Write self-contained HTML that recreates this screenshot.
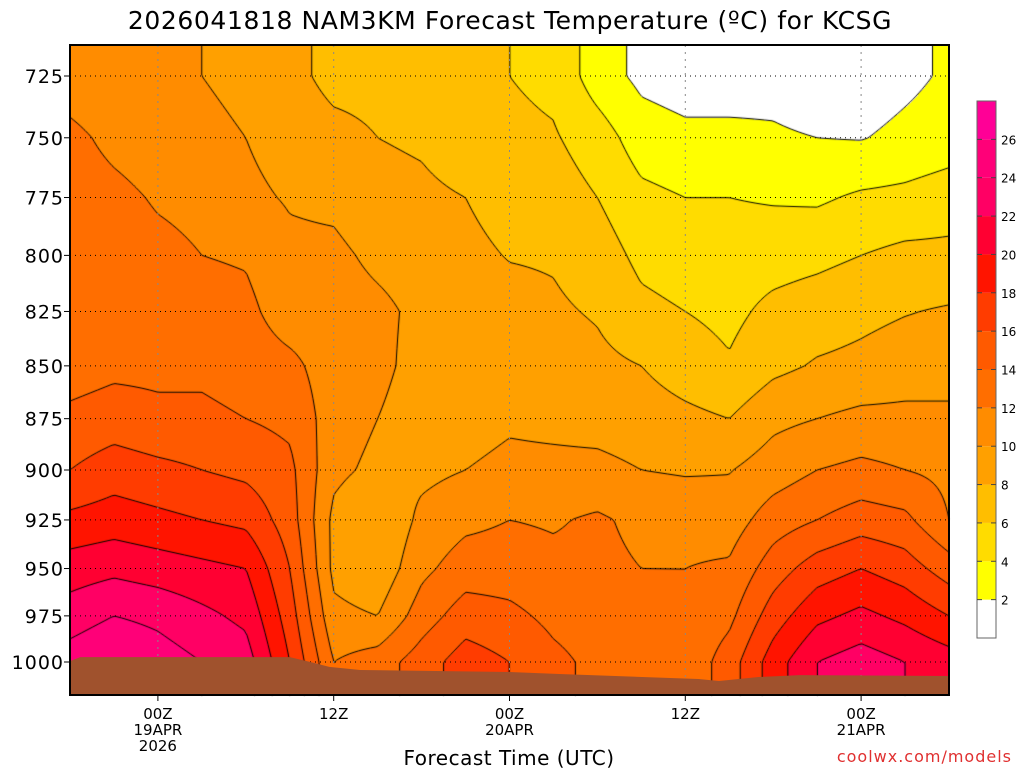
<!DOCTYPE html>
<html><head><meta charset="utf-8">
<style>
body{margin:0;background:#fff;width:1024px;height:768px;overflow:hidden;font-family:"DejaVu Sans","Liberation Sans",sans-serif}
#wrap{position:relative;width:1024px;height:768px}
canvas{position:absolute;left:0;top:0}
svg{position:absolute;left:0;top:0;font-family:"DejaVu Sans","Liberation Sans",sans-serif}
</style></head><body>
<div id="wrap">
<canvas id="cv" width="1024" height="768"></canvas>
<svg id="sv" width="1024" height="768"></svg>
</div>
<script>
const hours=[0,3,6,9,12,15,18,21,24,27,30,33,36,39,42,45,48,51,54,57,60];
const pressures=[725,750,775,800,825,850,875,900,925,950,975,1000];
const temps=[
[11,12.5,13,13,13,13,14.5,16,18.5,21,23,25],
[10.5,11.5,12.5,13,13,13.5,15,17,19,21.5,24,26],
[10.3,11,11.8,12.5,13,13.5,14.5,16.5,18.5,21,23.5,25],
[10,10.5,11.5,12,12.8,13.5,14.5,16,18,20.5,22.5,24],
[9.5,10,10.5,11.8,12.5,13,14,15.5,17.5,20,21.5,23],
[8.5,9,9.8,10.5,11,12.5,13.5,14.5,15,16,17,18],
[7.5,8.5,9.5,10.5,11,11,11,10.5,9.5,9.5,10.5,12],
[7.5,8,8.5,9.5,10.5,10.5,10,9.5,8,8.5,10,13],
[7.5,7.8,8.3,9,9.5,9.3,9,9.5,10.5,11.5,13,15],
[6.8,7.2,8,8.5,9.3,9.4,9.2,10,11.5,13,15,17],
[6,6.5,7.2,7.9,8.7,9.3,9.7,10.5,12,13,14.5,16],
[5.5,6.2,7,7.8,8.3,9,9.5,10.5,11.8,12.5,13.5,14.5],
[3,5,6,7,7.8,8.5,9.3,10.5,12.3,12.5,13,13.5],
[1.5,3,4.5,5.5,6.5,8,9,10,11.5,12,12.5,12.5],
[1,2.5,4,5,6,7,8.5,9.8,11.3,12,12.3,12.5],
[1,2.5,4,5,5.5,6.2,8,9.9,11,12.3,13.5,15],
[1.2,2.3,3.8,5.2,6.5,7.5,9.5,11,13,15,17,19],
[0.5,2,3.7,5.5,7,8.2,10,12,14,17,19.5,22],
[0.8,1.9,4.3,6,7.5,8.5,10.5,12.5,15,18,20.5,23],
[1.5,2.5,4.5,6.5,7.9,9,10.5,12,14.5,17,19.5,22],
[2.3,3,5,6.5,8.2,9,10.5,11.5,12,15,18,21]
];
const levels=[2,4,6,8,10,12,14,16,18,20,22,24,26];
const colors=['#ffffff','#ffff00','#ffdc00','#ffbe00','#ffa000','#ff8c00','#ff6e00','#ff5a00','#ff3c00','#ff1400','#ff0032','#ff0064','#ff0078','#ff0096'];
const xTicks=[{h:6,l:['00Z','19APR','2026']},{h:18,l:['12Z']},{h:30,l:['00Z','20APR']},{h:42,l:['12Z']},{h:54,l:['00Z','21APR']}];
const groundH=[0,0.7,15,16.4,17.7,19.8,30,33.4,42.9,44.3,47,49.8,60];
const groundP=[999.5,997.3,997.3,1000,1002.7,1004.4,1005.5,1006.6,1009.4,1010.5,1008.3,1007.2,1007.7];

const L=70,R=949,T=45,B=695;
const K=(662-76)/Math.log(1000/725);
const xS=h=>L+(h/60)*(R-L);
const yS=p=>76+K*Math.log(p/725);
const pOf=y=>725*Math.exp((y-76)/K);
function val(h,p){
  let i=Math.min(Math.max(h/3,0),hours.length-1.0001);
  let i0=Math.floor(i),fi=i-i0;
  let lp=Math.log(p);
  let j;
  if(p<=725) j=0; else if(p>=1000) j=pressures.length-1.0001;
  else{ for(j=0;j<pressures.length-1;j++){ if(p<=pressures[j+1]) break; }
    j=j+(lp-Math.log(pressures[j]))/(Math.log(pressures[j+1])-Math.log(pressures[j])); }
  j=Math.min(j,pressures.length-1.0001);
  let j0=Math.floor(j),fj=j-j0;
  const a=temps[i0][j0],b=temps[i0+1][j0],c=temps[i0][j0+1],d=temps[i0+1][j0+1];
  return (a*(1-fi)+b*fi)*(1-fj)+(c*(1-fi)+d*fi)*fj;
}
function band(v){let k=0;while(k<levels.length&&v>=levels[k])k++;return k;}
const cv=document.getElementById('cv'),ctx=cv.getContext('2d');
const img=ctx.createImageData(R-L,B-T);
const rgb=colors.map(c=>[parseInt(c.substr(1,2),16),parseInt(c.substr(3,2),16),parseInt(c.substr(5,2),16)]);
for(let y=T;y<B;y++){const p=pOf(y);for(let x=L;x<R;x++){const h=(x-L)/(R-L)*60;const c=rgb[band(val(h,p))];const o=((y-T)*(R-L)+(x-L))*4;img.data[o]=c[0];img.data[o+1]=c[1];img.data[o+2]=c[2];img.data[o+3]=255;}}
ctx.putImageData(img,L,T);
const st=3;ctx.strokeStyle='#000';ctx.lineWidth=1;
const nx=Math.ceil((R-L)/st),ny=Math.ceil((B-T)/st);
const g=[];for(let j=0;j<=ny;j++){g.push([]);for(let i=0;i<=nx;i++){g[j].push(val(i*st/(R-L)*60,pOf(T+j*st)));}}
ctx.beginPath();
for(const lv of levels){for(let j=0;j<ny;j++)for(let i=0;i<nx;i++){
  const a=g[j][i],b=g[j][i+1],c=g[j+1][i+1],d=g[j+1][i];
  const pts=[];const x0=L+i*st,y0=T+j*st;
  const e=(v1,v2)=>(lv-v1)/(v2-v1);
  if((a<lv)!=(b<lv))pts.push([x0+st*e(a,b),y0]);
  if((b<lv)!=(c<lv))pts.push([x0+st,y0+st*e(b,c)]);
  if((d<lv)!=(c<lv))pts.push([x0+st*e(d,c),y0+st]);
  if((a<lv)!=(d<lv))pts.push([x0,y0+st*e(a,d)]);
  for(let k=0;k+1<pts.length;k+=2){ctx.moveTo(pts[k][0],pts[k][1]);ctx.lineTo(pts[k+1][0],pts[k+1][1]);}
}}
ctx.stroke();

const NS='http://www.w3.org/2000/svg';
const sv=document.getElementById('sv');
function el(t,a,par){const e=document.createElementNS(NS,t);for(const k in a)e.setAttribute(k,a[k]);(par||sv).appendChild(e);return e;}
for(const p of pressures){const gl=el('line',{x1:L,x2:R,y1:yS(p),y2:yS(p),stroke:'#000','stroke-dasharray':'1,4','stroke-width':1});

}
for(const t of xTicks){const gl=el('line',{x1:xS(t.h),x2:xS(t.h),y1:T,y2:B,stroke:'#888','stroke-dasharray':'2,5','stroke-width':1});

}
let d='M'+L+','+B;for(let i=0;i<groundH.length;i++)d+=' L'+xS(groundH[i])+','+yS(groundP[i]);d+=' L'+R+','+B+' Z';
const gr=el('path',{d:d,fill:'#a0522d'});


const fr=el('rect',{x:L,y:T,width:R-L,height:B-T,fill:'none',stroke:'#000','stroke-width':2});


for(const p of pressures){const y=yS(p);
 el('line',{x1:L-6,x2:L,y1:y,y2:y,stroke:'#000'});
 const tx=el('text',{x:64,y:y+7,'text-anchor':'end','font-size':19,fill:'#000','letter-spacing':'1'});tx.textContent=p;
 
 }
for(const t of xTicks){const x=xS(t.h);el('line',{x1:x,x2:x,y1:B,y2:B+6,stroke:'#000'});
 t.l.forEach((s,k)=>{const tx=el('text',{x:x,y:719+k*16,'text-anchor':'middle','font-size':15,fill:'#000'});tx.textContent=s;
 
 });}
const ti=el('text',{x:510,y:29,'text-anchor':'middle','font-size':25,fill:'#000','letter-spacing':'0.6'});ti.textContent='2026041818 NAM3KM Forecast Temperature (ºC) for KCSG';


const xt=el('text',{x:509,y:765,'text-anchor':'middle','font-size':20,fill:'#000','letter-spacing':'0.5'});xt.textContent='Forecast Time (UTC)';


const cr=el('text',{x:1012,y:762,'text-anchor':'end','font-size':16,fill:'#e03030','letter-spacing':'1'});cr.textContent='coolwx.com/models';


const cbT=101,cbB=638,cbH=(cbB-cbT)/colors.length;
for(let k=0;k<colors.length;k++){const r=el('rect',{x:977,y:cbB-(k+1)*cbH,width:19,height:cbH,fill:colors[k]});
 
 }
el('rect',{x:977,y:cbT,width:19,height:cbB-cbT,fill:'none',stroke:'#666'});
levels.forEach((lv,k)=>{const y=cbB-(k+1)*cbH;el('line',{x1:977,x2:982,y1:y,y2:y,stroke:'#444'});el('line',{x1:991,x2:996,y1:y,y2:y,stroke:'#444'});
 const tx=el('text',{x:1001,y:y+5,'font-size':12,fill:'#000'});tx.textContent=lv;
 
 });
</script>
</body></html>
